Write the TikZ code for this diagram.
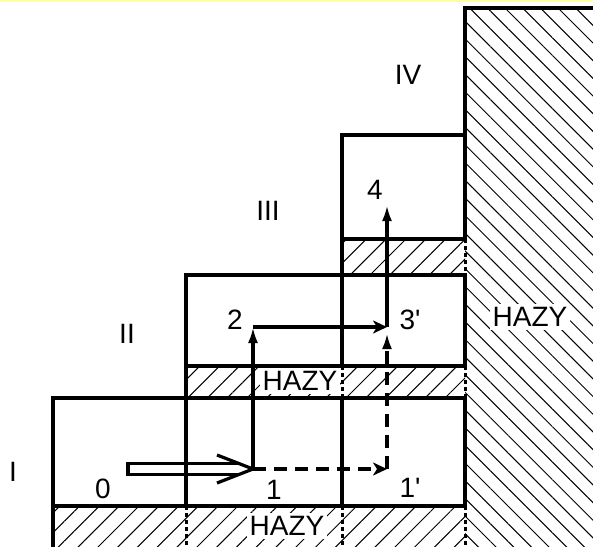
\documentclass[tikz,border=0pt]{standalone}
\usepackage{fontspec}
\setmainfont{Liberation Sans}
\usetikzlibrary{arrows.meta, calc, patterns.meta}
\definecolor{cEdge}{RGB}{255,255,170}
\tikzset{
	wall/.style     ={line width=4.2pt, line cap=rect},
	hidden/.style   ={line width=3pt, dash pattern=on 4pt off 3pt},
	hazystrip/.style={pattern={Lines[angle=45, distance=14pt, line width=1pt]}},
	hazyblock/.style={pattern={Lines[angle=-45, distance=12.5pt, line width=1pt]}},
	move/.style     ={line width=3.2pt},
	jump/.style     ={line width=3.2pt, dash pattern=on 13pt off 8pt},
	uptip/.style    ={-{Latex[length=16pt, width=10pt]}},
	righttip/.style ={-{Stealth[length=14pt, width=13pt, inset=4pt]}},
	tag/.style      ={inner sep=0pt},
	hazy/.style     ={fill=white, inner sep=3pt},
}

\begin{document}
\begin{tikzpicture}[x=1pt, y=-1pt, font=\fontsize{28}{33}\selectfont]
	\useasboundingbox (0,0) rectangle (593,546);
	\draw[cEdge, line width=2pt] (0,1) -- (593,1);
	% hazy zones
	\fill[hazyblock] (465,8) rectangle (600,550);
	\fill[hazystrip] (342,239) rectangle (465,275);
	\fill[hazystrip] (186,366) rectangle (465,398);
	\fill[hazystrip] (53,506) rectangle (465,550);
	\node[hazy] (hz1) at (287,526) {HAZY};
	\node[hazy] (hz2) at (300,381) {HAZY};
	\node[hazy] (hz3) at (530,317) {HAZY};
	% steps
	\draw[wall] (600,8) -- (465,8);
	\foreach \y/\a in {135/342, 239/342, 275/186, 366/186, 398/53, 506/53}
		\draw[wall] (\a,\y) -- (465,\y);
	\foreach \x/\a/\b in {53/398/550, 186/275/506, 342/135/366, 342/398/506, 465/8/239, 465/275/366, 465/398/506}
		\draw[wall] (\x,\a) -- (\x,\b);
	\foreach \x/\a/\b in {186/506/550, 342/366/398, 342/506/550, 465/239/275, 465/366/398, 465/506/550}
		\draw[hidden] (\x,\a) -- (\x,\b);
	% levels
	\node[tag] (rI) at (13,472) {I};
	\node[tag] (rII) at (127,334) {II};
	\node[tag] (rIII) at (268,211) {III};
	\node[tag] (rIV) at (408,75) {IV};
	% states
	\coordinate (p0) at (128,469);
	\coordinate (p1) at (253,469);
	\coordinate (p1s) at (387,469);
	\coordinate (p2) at (253,327);
	\coordinate (p3s) at (387,327);
	\coordinate (p4) at (387,205);
	\node[tag] (n0) at (103,489) {0};
	\node[tag] (n1) at (274,490) {1};
	\node[tag] (n1s) at (410,488) {1\textquotesingle};
	\node[tag] (n2) at (235,320) {2};
	\node[tag] (n3s) at (410,320) {3\textquotesingle};
	\node[tag] (n4) at (375,190) {4};
	% transitions
	\draw[move, line join=miter] ($(p1)+(-14,-5.5)$) -- ($(p0)+(0,-5.5)$) -- ($(p0)+(0,5.5)$) -- ($(p1)+(-14,5.5)$);
	\draw[move] ($(p1)+(-36,-14)$) -- (p1) -- ($(p1)+(-36,14)$);
	\draw[move, uptip] (p1) -- (p2);
	\draw[move, righttip] (p2) -- (p3s);
	\draw[move, uptip] (p3s) -- (p4);
	\draw[jump, righttip] (p1) -- (p1s);
	\draw[jump, uptip, shorten >=6pt] (p1s) -- (p3s);
\end{tikzpicture}
\end{document}
